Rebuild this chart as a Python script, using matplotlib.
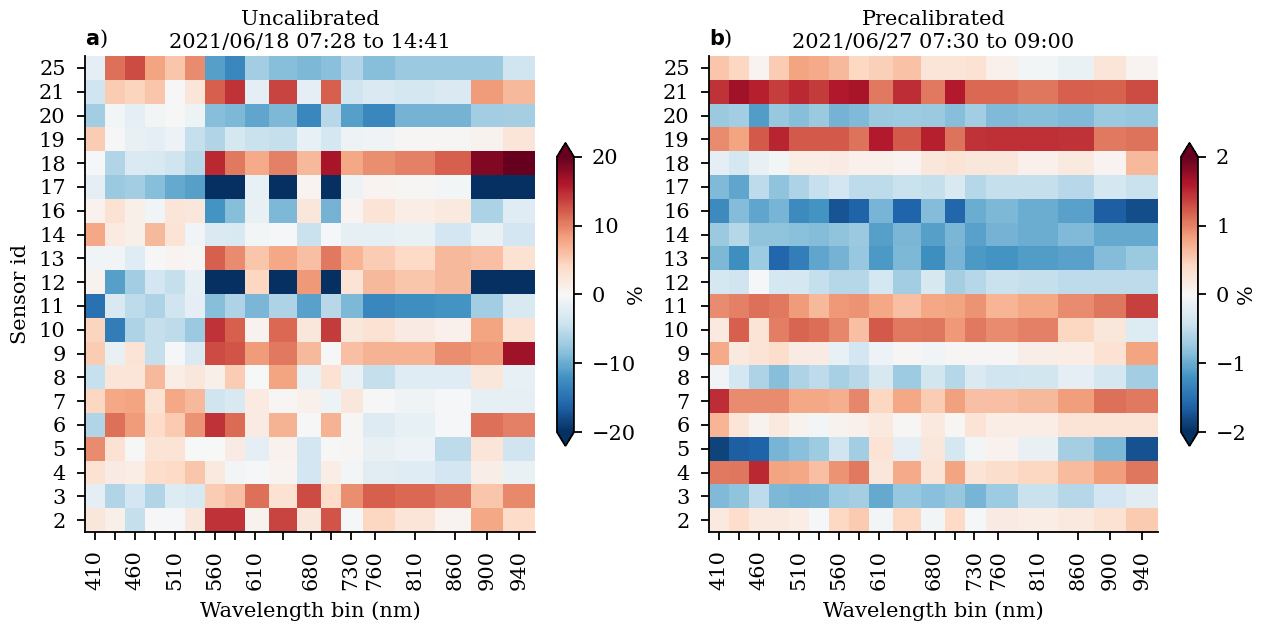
import numpy as np
import matplotlib
matplotlib.use("Agg")
from matplotlib import pyplot as plt

plt.rcParams["font.family"] = "DejaVu Serif"
plt.rcParams["mathtext.fontset"] = "dejavusans"

sensor_ids = [25, 21, 20, 19, 18, 17, 16, 14, 13, 12, 11, 10, 9, 8, 7, 6, 5, 4, 3, 2]
wavelengths = [410, 435, 460, 485, 510, 535, 560, 585, 610, 645, 680, 705, 730,
               760, 810, 860, 900, 940]
labelled = [410, 460, 510, 560, 610, 680, 730, 760, 810, 860, 900, 940]

# percent deviation, rows follow sensor_ids (top to bottom)
uncal = [
    [-2, 11, 13, 8, 5.5, 9.5, -11, -13, -7, -8.5, -9, -8.3, -6, -8.5, -7.5, -7.5, -7.5, -4],
    [-4, 5, 4.5, 5.5, 0, 2.5, 12, 14.5, -2, 13.5, -2, 12, -4, -3, -3.5, -3, 8.5, 6.5],
    [-7, -0.5, -2, -0.5, 0, -1, -8.5, -9, -10.5, -9, -13, -5.5, -11, -13, -9.5, -9.5, -7, -6.8],
    [5, 0, -1.5, -2, -1.2, -4.8, -6, -3.5, -4.5, -4.7, -1.7, -3.5, -1, -0.8, 0.3, 0.3, 0.7, 2.5],
    [-0.3, -6, -3, -3.2, -4, -5.5, 15, 10.5, 7.5, 10, 6.5, 16.5, 7.8, 9.3, 10, 12, 18.5, 21],
    [-2, -7.5, -7, -8.5, -10.3, -11, -22, -22, -1.7, -22, 0.5, -22, -1, 0.5, 0.2, -0.5, -22, -22],
    [0.8, 3, 1.2, -0.7, 2.5, 2.3, -12, -8.5, -1.5, -9, 2.3, -9.5, 0.5, 2.8, 1.5, 2, -6.3, -2.5],
    [7.8, 1.8, 1.2, 6.5, 2.7, -0.7, -3, -3.2, -0.5, -0.3, -4.5, -0.3, -1.8, -1.8, -1.4, -3.7, -1.3, -3.7],
    [-0.7, -0.7, -2.5, 0.1, 0.6, 0.2, 12, 9.5, 5.5, 7.8, 6, 10.5, 6.8, 5, 4, 6.5, 6, 3],
    [0.7, -11, -7, -3.7, -4.8, -1.8, -22, -22, 4.3, -22, 8.7, -22, 2.7, 6.5, 5.5, 6.5, -22, -22],
    [-15, -3.2, -5.3, -6.2, -4, -2, -8.5, -6.2, -9.2, -6.2, -10.8, -5.6, -9, -13, -12.5, -12, -7, -3.2],
    [4.5, -14, -6.2, -4.8, -5.3, -7.5, 14.5, 12, 0.7, 11.5, 2.3, 14, 2.3, 3, 1.7, 1, 8, 3],
    [5, -1.5, 2.7, -4.8, -0.2, -3, 13, 12.5, 8.5, 10.5, 6.5, 0, 6, 7, 7, 9.3, 8.7, 17],
    [-4.6, 2.6, 2.5, 6.5, 1.5, 2.3, 1.2, 5, -0.1, 8, -1.4, 3, -1.4, -4.8, -2.5, -2.5, 2.3, -1.7],
    [4.3, 7.8, 8, 3, 7.8, 6.5, -4, -3.2, 1.8, 0.2, 1, -1, 2.2, 0, -0.9, -0.3, -1.8, -1.8],
    [-6, 11, 8.5, 3.8, 5.3, 9, 14.5, 11.3, 1.6, 7, 0, 7, 0.3, -2.6, -1.7, -0.3, 11, 10],
    [9.5, 3, 0, 2.7, 2.7, -0.1, -0.1, 1.6, -2, 0.9, -3.7, 0.1, 0.2, -1.5, -1.1, -5.2, 2.5, -4],
    [3, 1.6, 1.5, 3.7, 4, 5.5, 2, -0.6, -0.3, 0.5, -3.6, 1.5, -0.6, -2.3, -2.4, -3.7, 1.3, -1.3],
    [-2, -6, -3.6, -6, -2.8, -3.2, 5, 6, 11, 3, 13, 3.8, 9.3, 12, 11.5, 10.5, 5.5, 9.6],
    [2.3, 1.2, -4.8, 0, -0.3, 2.3, 14.5, 14.5, 0.7, 13.5, 2.3, 12.5, -0.3, 4.3, 2.5, 0.5, 7.8, 3.8],
]

precal = [
    [0.55, 0.43, 0.05, 0.5, 0.8, 0.75, 0.65, 0.42, 0.47, 0.58, 0.25, 0.25, 0.3, 0.1, -0.05, -0.14, 0.25, 0.05],
    [1.45, 1.7, 1.55, 1.38, 1.5, 1.4, 1.6, 1.65, 1.05, 1.48, 1.05, 1.58, 1.15, 1.15, 1.07, 1.2, 1.18, 1.3],
    [-0.75, -0.7, -1.12, -0.76, -0.85, -0.75, -0.95, -0.88, -0.75, -0.73, -0.75, -0.85, -0.7, -0.88, -0.85, -0.88, -0.75, -0.78],
    [0.95, 0.8, 1.22, 1.52, 1.23, 1.23, 1.22, 1.08, 1.58, 1.23, 1.55, 1.08, 1.45, 1.46, 1.46, 1.45, 1.05, 1.08],
    [-0.2, -0.35, -0.15, -0.05, 0.15, 0.15, 0.17, 0.1, 0.1, 0.05, 0.22, 0.27, 0.22, 0.23, 0.1, 0.2, 0.05, 0.65],
    [-0.88, -1.05, -0.52, -0.8, -0.62, -0.46, -0.36, -0.52, -0.52, -0.45, -0.47, -0.32, -0.57, -0.48, -0.48, -0.55, -0.35, -0.45],
    [-1.28, -0.87, -1.05, -0.93, -1.27, -1.2, -1.72, -1.62, -0.93, -1.6, -0.87, -1.58, -1.0, -0.9, -1.0, -1.08, -1.65, -1.77],
    [-0.75, -0.57, -0.8, -0.8, -0.83, -0.87, -0.8, -0.75, -1.1, -0.92, -1.1, -0.92, -1.08, -0.95, -1.0, -0.88, -1.03, -1.03],
    [-0.9, -1.25, -0.73, -1.58, -1.38, -1.05, -0.95, -0.76, -1.15, -0.9, -1.25, -0.93, -1.15, -1.2, -1.12, -1.08, -0.87, -0.75],
    [-0.35, -0.4, -0.03, -0.35, -0.35, -0.48, -0.57, -0.57, -0.35, -0.7, -0.33, -0.68, -0.57, -0.45, -0.48, -0.53, -0.53, -0.53],
    [0.95, 1.0, 1.1, 1.05, 0.85, 0.65, 0.87, 0.9, 0.77, 0.6, 0.77, 0.8, 0.9, 0.68, 0.77, 0.95, 1.07, 1.37],
    [0.2, 1.2, 0.27, 1.02, 1.17, 1.12, 0.97, 0.6, 1.22, 1.05, 1.07, 0.87, 1.05, 0.95, 1.0, 0.43, 0.22, -0.28],
    [0.75, 0.2, 0.27, 0.37, 0.17, 0.17, -0.17, -0.37, -0.12, 0.02, -0.07, 0.03, 0.03, 0.03, 0.13, 0.15, 0.3, 0.8],
    [-0.07, -0.35, -0.62, -0.85, -0.62, -0.52, -0.66, -0.55, -0.33, -0.73, -0.38, -0.57, -0.3, -0.4, -0.38, -0.2, -0.35, -0.7],
    [1.48, 0.95, 0.95, 0.95, 0.78, 0.78, 0.73, 0.97, 0.43, 0.78, 0.5, 0.82, 0.6, 0.6, 0.65, 0.83, 1.1, 1.05],
    [0.68, 0.25, 0.07, 0.2, 0.07, -0.05, 0.07, 0.1, 0.2, 0.03, 0.2, 0.02, 0.27, 0.15, 0.15, 0.27, 0.27, 0.27],
    [-1.85, -1.65, -1.62, -0.93, -0.83, -0.73, -0.4, -0.7, 0.27, -0.2, 0.22, -0.35, -0.06, 0.08, -0.15, -0.68, -0.9, -1.75],
    [1.05, 1.07, 1.5, 0.8, 0.77, 0.6, 0.9, 1.05, 0.22, 0.75, 0.27, 0.8, 0.27, 0.35, 0.43, 0.63, 0.83, 1.07],
    [-0.88, -0.8, -0.53, -0.9, -0.93, -0.92, -0.73, -0.68, -1.03, -0.76, -0.83, -0.77, -0.93, -0.73, -0.45, -0.57, -0.37, -0.22],
    [0.2, 0.37, 0.2, 0.2, 0.15, -0.03, 0.42, 0.53, -0.05, 0.42, -0.05, 0.4, -0.03, 0.17, 0.15, 0.2, 0.3, 0.53],
]

panels = [
    ("a", "Uncalibrated\n2021/06/18 07:28 to 14:41", uncal, 20, [-20, -10, 0, 10, 20]),
    ("b", "Precalibrated\n2021/06/27 07:30 to 09:00", precal, 2, [-2, -1, 0, 1, 2]),
]

fig = plt.figure(figsize=(12.65, 6.24), dpi=100)
ax_pos = [[0.0672, 0.1474, 0.3557, 0.7628], [0.5605, 0.1474, 0.3550, 0.7628]]
cb_pos = [[0.4403, 0.2853, 0.0134, 0.4856], [0.9336, 0.2853, 0.0134, 0.4856]]

fs = 15
for i, (tag, title, vals, lim, cticks) in enumerate(panels):
    ax = fig.add_axes(ax_pos[i])
    y = np.arange(len(sensor_ids))
    mesh = ax.pcolormesh(wavelengths, y, np.array(vals), cmap="RdBu_r",
                         vmin=-lim, vmax=lim, shading="nearest")
    ax.invert_yaxis()
    ax.set_yticks(y)
    ax.set_yticklabels([str(s) for s in sensor_ids], fontsize=fs)
    ax.set_xticks(wavelengths)
    ax.set_xticklabels([str(w) if w in labelled else "" for w in wavelengths],
                       rotation=90, fontsize=fs)
    for s in ["top", "right"]:
        ax.spines[s].set_visible(False)
    for s in ["left", "bottom"]:
        ax.spines[s].set_linewidth(1.3)
    ax.tick_params(length=6, width=1.3)
    ax.tick_params(axis="x", pad=7)
    ax.tick_params(axis="y", pad=8)
    ax.set_xlabel("Wavelength bin (nm)", fontsize=fs, labelpad=8)
    if i == 0:
        ax.set_ylabel("Sensor id", fontsize=fs, labelpad=6)
    ax.set_title(title, fontsize=fs, pad=6, linespacing=1.27)
    ax.text(0.0, 1.012, r"$\bf{" + tag + "}$)", transform=ax.transAxes,
            fontsize=fs, ha="left", va="bottom")

    cax = fig.add_axes(cb_pos[i])
    cb = fig.colorbar(mesh, cax=cax, extend="both", ticks=cticks)
    cb.outline.set_linewidth(1.3)
    cax.tick_params(length=6, width=1.3, labelsize=fs, pad=7)
    cb.set_label("%", fontsize=fs, labelpad=-7)

plt.savefig("out.png", dpi=100)
